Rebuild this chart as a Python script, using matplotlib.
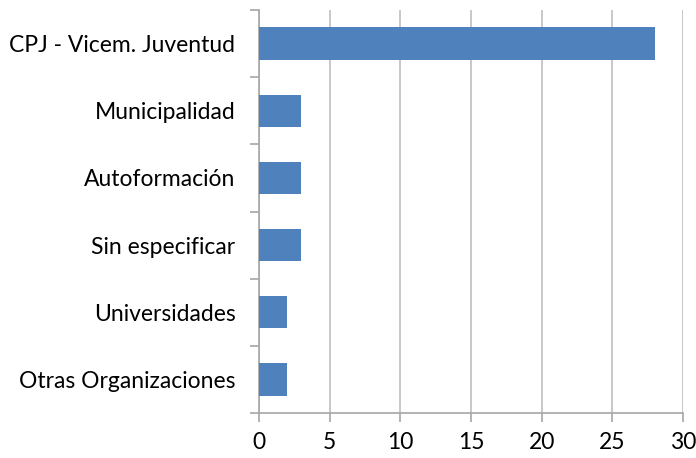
import matplotlib
matplotlib.use("Agg")
import matplotlib.pyplot as plt
import numpy as np

categories = ["CPJ - Vicem. Juventud", "Municipalidad", "Autoformación",
              "Sin especificar", "Universidades", "Otras Organizaciones"]
values = [28, 3, 3, 3, 2, 2]
xticks = [0, 5, 10, 15, 20, 25, 30]

plt.rcParams['font.family'] = ['Lato', 'DejaVu Sans']

fig = plt.figure(figsize=(6.96, 4.58), dpi=100)
ax = fig.add_axes([259/696, 1-413/458, (683-259)/696, (413-10)/458])

y = np.arange(len(categories))
ax.barh(y, values, height=0.48, color="#4F81BD", zorder=3)
ax.set_ylim(len(categories)-0.5, -0.5)
ax.set_xlim(0, 30)
ax.set_xticks(xticks)
ax.set_xticklabels([str(t) for t in xticks])
ax.set_yticks(y)
ax.set_yticklabels(categories)
ax.set_yticks(np.arange(-0.5, len(categories)), minor=True)

ax.grid(axis="x", color="#BFBFBF", linewidth=1.2, zorder=0)
for s in ["top", "right"]:
    ax.spines[s].set_visible(False)
for s in ["left", "bottom"]:
    ax.spines[s].set_color("#A6A6A6")
    ax.spines[s].set_linewidth(1.2)

ax.tick_params(axis="y", which="major", length=0, pad=17, labelsize=16.5, labelcolor="black")
ax.tick_params(axis="y", which="minor", length=6.5, width=1.2, color="#A6A6A6")
ax.tick_params(axis="x", which="major", length=6.5, width=1.2, color="#A6A6A6", pad=7, labelsize=16.5)

fig.savefig("out.png", dpi=100)
